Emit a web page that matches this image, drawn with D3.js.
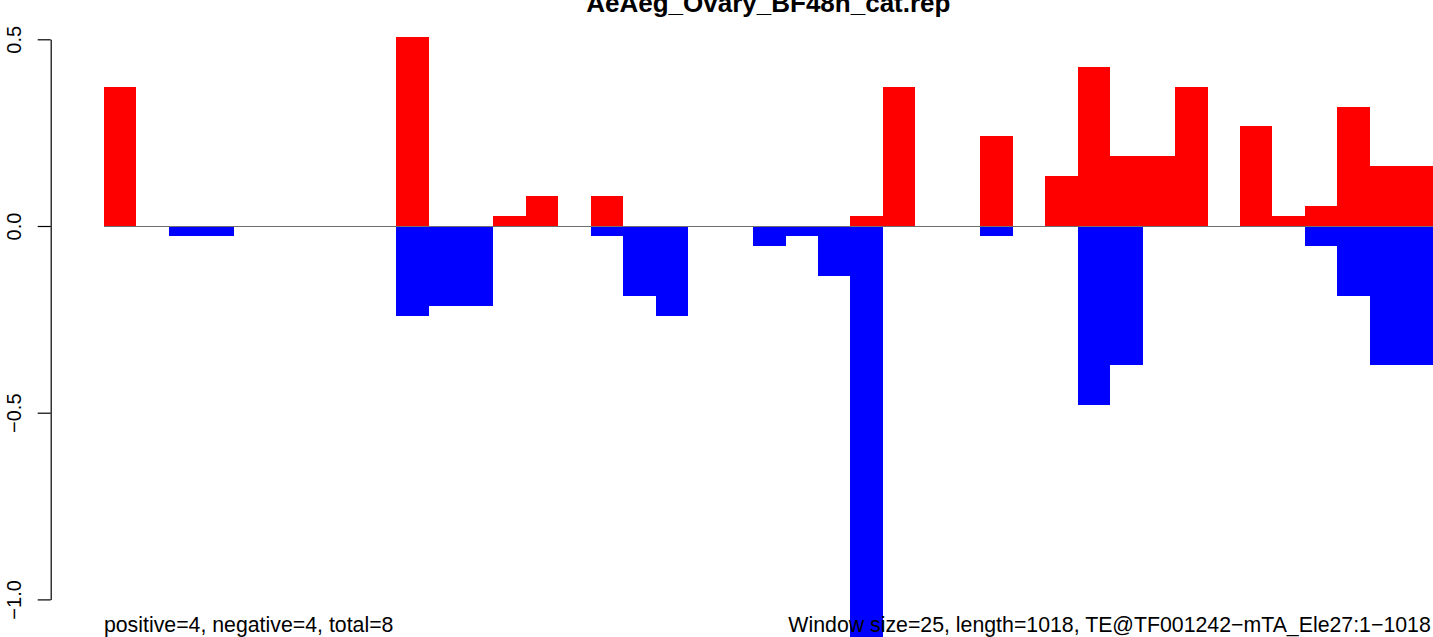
<!DOCTYPE html>
<html>
<head>
<meta charset="utf-8">
<script src="https://cdn.jsdelivr.net/npm/d3@7"></script>
<style>
  html, body { margin: 0; padding: 0; background: #ffffff; }
  svg { display: block; }
  text { font-family: "Liberation Sans", Arial, Helvetica, sans-serif; }
</style>
</head>
<body>
<svg id="chart" width="1433" height="637"></svg>
<script>
// ---- data ----
const title = "AeAeg_Ovary_BF48h_cat.rep";
const windows = [1,2,3,4,5,6,7,8,9,10,11,12,13,14,15,16,17,18,19,20,21,
                 22,23,24,25,26,27,28,29,30,31,32,33,34,35,36,37,38,39,40,41];
const positiveValues = [0.373,0,0,0,0,0,0,0,0,0.507,0,0,0.027,0.08,0,0.08,0,0,0,0,0,
                        0,0,0.027,0.373,0,0,0.24,0,0.133,0.427,0.187,0.187,0.373,0,0.267,0.027,0.053,0.32,0.16,0.16];
const negativeValues = [0,0,-0.027,-0.027,0,0,0,0,0,-0.24,-0.213,-0.213,0,0,0,-0.027,-0.187,-0.24,0,0,-0.053,
                        -0.027,-0.133,-1.12,0,0,0,-0.027,0,0,-0.48,-0.373,0,0,0,0,0,-0.053,-0.187,-0.373,-0.373];
const yTicks = [0.5, 0.0, -0.5, -1.0];
const leftNote = "positive=4, negative=4, total=8";
const rightNote = "Window size=25, length=1018, TE@TF001242\u2212mTA_Ele27:1\u22121018";

// ---- layout ----
const svg = d3.select("#chart");
const plotLeft = 50.7, plotRight = 1488;
const n = windows.length;
const pad = n * 0.04;
const x = d3.scaleLinear().domain([-pad, n + pad]).range([plotLeft, plotRight]);
const y = d3.scaleLinear().domain([-1, 0.5]).range([599.4, 39.3]);

const posData = windows.map((w, i) => ({i, v: positiveValues[i]})).filter(d => d.v !== 0);
const negData = windows.map((w, i) => ({i, v: negativeValues[i]})).filter(d => d.v !== 0);

svg.append("g").selectAll("rect").data(posData).join("rect")
  .attr("x", d => x(d.i))
  .attr("width", d => x(d.i + 1) - x(d.i))
  .attr("y", d => y(d.v))
  .attr("height", d => y(0) - y(d.v))
  .attr("fill", "#ff0000")
  .attr("shape-rendering", "crispEdges");

svg.append("g").selectAll("rect").data(negData).join("rect")
  .attr("x", d => x(d.i))
  .attr("width", d => x(d.i + 1) - x(d.i))
  .attr("y", y(0))
  .attr("height", d => y(d.v) - y(0))
  .attr("fill", "#0000ff")
  .attr("shape-rendering", "crispEdges");

// zero line
svg.append("line")
  .attr("x1", x(0)).attr("x2", x(n))
  .attr("y1", y(0) + 0.5).attr("y2", y(0) + 0.5)
  .attr("stroke", "#6e6e6e").attr("stroke-width", 1)
  .attr("shape-rendering", "crispEdges");

// y axis
const yAxis = d3.axisLeft(y)
  .tickValues(yTicks)
  .tickFormat(d3.format(".1f"))
  .tickSize(13)
  .tickSizeOuter(0);
const gy = svg.append("g").attr("transform", `translate(${plotLeft},0)`).call(yAxis);
gy.select(".domain").attr("stroke", "#000").attr("stroke-width", 1.2);
gy.selectAll(".tick line").attr("stroke", "#000").attr("stroke-width", 1.2);
gy.selectAll(".tick text")
  .attr("x", 0).attr("dy", 0)
  .attr("transform", "translate(-30,0) rotate(-90)")
  .attr("text-anchor", "middle")
  .attr("fill", "#000")
  .style("font-size", "20px")
  .style("font-family", "'Liberation Sans', Arial, Helvetica, sans-serif");

// title
svg.append("text")
  .attr("x", (plotLeft + plotRight) / 2 - 1)
  .attr("y", 11.5)
  .attr("text-anchor", "middle")
  .style("font-size", "26px")
  .style("font-weight", "bold")
  .text(title);

// bottom notes
svg.append("text")
  .attr("x", x(0)).attr("y", 632)
  .attr("text-anchor", "start")
  .style("font-size", "21.3px")
  .text(leftNote);

svg.append("text")
  .attr("x", x(n) - 4).attr("y", 632)
  .attr("text-anchor", "end")
  .style("font-size", "21.3px")
  .text(rightNote);
</script>
</body>
</html>
